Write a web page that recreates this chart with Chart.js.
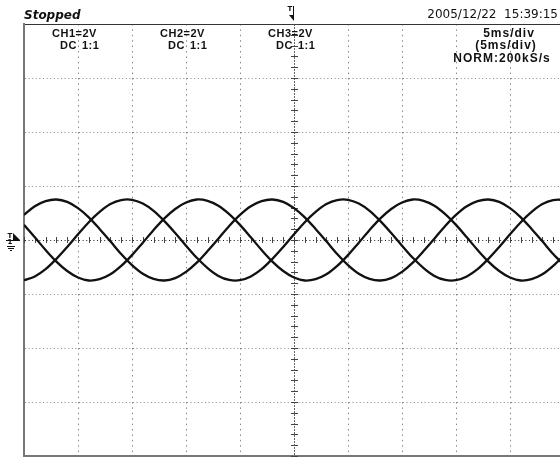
<!DOCTYPE html>
<html>
<head>
<meta charset="utf-8">
<script src="https://cdn.jsdelivr.net/npm/chart.js@4.4.1/dist/chart.umd.min.js"></script>
<style>
html, body { margin: 0; padding: 0; background: #fff; overflow: hidden; }
#scope { display: block; }
</style>
</head>
<body>
<canvas id="scope" width="580" height="457"></canvas>
<script>
// time base: 5 ms/div, 10 div, trigger at centre
var time_ms = [-25, -24, -23, -22, -21, -20, -19, -18, -17, -16,
    -15, -14, -13, -12, -11, -10, -9, -8, -7, -6,
    -5, -4, -3, -2, -1, 0, 1, 2, 3, 4,
    5, 6, 7, 8, 9, 10, 11, 12, 13, 14,
    15, 16, 17, 18, 19, 20, 21, 22, 23, 24, 25];

// volts (2 V/div)
var ch1_volt = [-1.49, -1.35, -1.08, -0.70, -0.26, 0.21, 0.66, 1.04, 1.33, 1.48,
    1.49, 1.35, 1.08, 0.70, 0.26, -0.21, -0.66, -1.04, -1.33, -1.48,
    -1.49, -1.35, -1.08, -0.70, -0.26, 0.21, 0.66, 1.04, 1.33, 1.48,
    1.49, 1.35, 1.08, 0.70, 0.26, -0.21, -0.66, -1.04, -1.33, -1.48,
    -1.49, -1.35, -1.08, -0.70, -0.26, 0.21, 0.66, 1.04, 1.33, 1.48, 1.49];
var ch2_volt = [0.56, 0.10, -0.37, -0.80, -1.15, -1.39, -1.50, -1.45, -1.27, -0.96,
    -0.56, -0.10, 0.37, 0.80, 1.15, 1.39, 1.50, 1.45, 1.27, 0.96,
    0.56, 0.10, -0.37, -0.80, -1.15, -1.39, -1.50, -1.45, -1.27, -0.96,
    -0.56, -0.10, 0.37, 0.80, 1.15, 1.39, 1.50, 1.45, 1.27, 0.96,
    0.56, 0.10, -0.37, -0.80, -1.15, -1.39, -1.50, -1.45, -1.27, -0.96, -0.56];
var ch3_volt = [0.93, 1.25, 1.44, 1.50, 1.41, 1.18, 0.84, 0.41, -0.05, -0.52,
    -0.93, -1.25, -1.44, -1.50, -1.41, -1.18, -0.84, -0.41, 0.05, 0.52,
    0.93, 1.25, 1.44, 1.50, 1.41, 1.18, 0.84, 0.41, -0.05, -0.52,
    -0.93, -1.25, -1.44, -1.50, -1.41, -1.18, -0.84, -0.41, 0.05, 0.52,
    0.93, 1.25, 1.44, 1.50, 1.41, 1.18, 0.84, 0.41, -0.05, -0.52, -0.93];

var ch_labels = ["CH1=2V", "CH2=2V", "CH3=2V"];
var coupling_label = ["DC", "1:1"];
var timebase_labels = ["5ms/div", "(5ms/div)", "NORM:200kS/s"];
var status_label = "Stopped";
var date_label = "2005/12/22  15:39:15";

function toPoints(ys) {
    return time_ms.map((t, i) => ({ x: t, y: ys[i] }));
}

function traceSet(ys) {
    return {
        type: "line",
        data: toPoints(ys),
        borderColor: "#111",
        borderWidth: 2.3,
        pointRadius: 0,
        tension: 0.33,
        fill: false,
    };
}

// small ticks on the centre axes
const centreTicks = {
    id: "centreTicks",
    beforeDatasetsDraw(chart) {
        const ctx = chart.ctx;
        const xs = chart.scales.x, ys = chart.scales.y;
        const x0 = xs.getPixelForValue(0), y0 = ys.getPixelForValue(0);
        ctx.save();
        ctx.strokeStyle = "#444";
        ctx.lineWidth = 1;
        ctx.beginPath();
        for (let t = -25; t <= 25; t++) {
            const px = Math.round(xs.getPixelForValue(t)) + 0.5;
            ctx.moveTo(px, y0 - 3);
            ctx.lineTo(px, y0 + 3);
        }
        for (let v = -8; v <= 8.001; v += 0.4) {
            const py = Math.round(ys.getPixelForValue(v)) + 0.5;
            ctx.moveTo(x0 - 3, py);
            ctx.lineTo(x0 + 4, py);
        }
        ctx.stroke();
        ctx.restore();
    },
};

const screenText = {
    id: "screenText",
    afterDraw(chart) {
        const ctx = chart.ctx;
        const xs = chart.scales.x, ys = chart.scales.y;
        ctx.save();
        ctx.fillStyle = "#111";
        ctx.textBaseline = "alphabetic";

        ctx.font = 'bold italic 12px "DejaVu Sans"';
        ctx.textAlign = "left";
        ctx.fillText(status_label, 24, 19);

        ctx.font = '12px "DejaVu Sans"';
        ctx.textAlign = "right";
        ctx.fillText(date_label, 558, 18);

        ctx.font = 'bold 11px "Liberation Sans"';
        ctx.textAlign = "left";
        ctx.letterSpacing = "0.5px";
        for (let i = 0; i < ch_labels.length; i++) {
            const x = 52 + i * 108;
            ctx.fillText(ch_labels[i], x, 37);
            ctx.fillText(coupling_label[0], x + 8, 49);
            ctx.fillText(coupling_label[1], x + 30, 49);
        }
        ctx.font = 'bold 12px "Liberation Sans"';
        ctx.letterSpacing = "1px";
        ctx.textAlign = "center";
        ctx.fillText(timebase_labels[0], 509, 37);
        ctx.fillText(timebase_labels[1], 506, 49);
        ctx.fillText(timebase_labels[2], 502, 62);
        ctx.letterSpacing = "0px";

        // trigger position marker (top)
        const tx = Math.round(xs.getPixelForValue(0)) - 3;
        ctx.font = 'bold 7px "DejaVu Sans"';
        ctx.textAlign = "center";
        ctx.fillText("T", tx - 1, 11);
        ctx.fillRect(tx + 2, 6, 1, 12);
        ctx.beginPath();
        ctx.moveTo(tx - 2, 15);
        ctx.lineTo(tx + 3, 21);
        ctx.lineTo(tx + 3, 15);
        ctx.closePath();
        ctx.fill();

        // trigger level / ground marker (left)
        const ly = Math.round(ys.getPixelForValue(0));
        ctx.fillText("T", 10, ly - 2);
        ctx.fillText("1", 10, ly + 4);
        ctx.beginPath();
        ctx.moveTo(13, ly - 7);
        ctx.lineTo(20, ly);
        ctx.lineTo(13, ly + 1);
        ctx.closePath();
        ctx.fill();
        ctx.fillRect(6, ly, 14, 1);
        ctx.fillRect(7, ly + 6, 8, 1);
        ctx.fillRect(8, ly + 8, 6, 1);
        ctx.fillRect(10, ly + 10, 2, 1);
        ctx.restore();
    },
};

const ctx = document.getElementById("scope").getContext("2d");
const scopeChart = new Chart(ctx, {
    data: {
        datasets: [traceSet(ch1_volt), traceSet(ch2_volt), traceSet(ch3_volt)],
    },
    options: {
        responsive: false,
        animation: false,
        layout: {
            padding: { left: 24, top: 24, right: 16, bottom: 1 },
        },
        plugins: {
            legend: { display: false },
            tooltip: { enabled: false },
        },
        scales: {
            x: {
                type: "linear",
                min: -25,
                max: 25,
                ticks: { display: false, stepSize: 5 },
                grid: {
                    drawTicks: false,
                    lineWidth: 1,
                    color: c => c.tick && c.tick.value === 0 ? "#666" : "#888",
                },
                border: {
                    display: true,
                    color: "#777",
                    width: 2,
                    dash: c => c.tick && c.tick.value === 0 ? [2, 1] : [1.5, 3.9],
                },
                afterFit: s => { s.height = 0; },
            },
            xTop: {
                type: "linear",
                position: "top",
                min: -25,
                max: 25,
                ticks: { display: false },
                grid: { display: false, drawTicks: false },
                border: { display: true, color: "#333", width: 1 },
                afterFit: s => { s.height = 0; },
            },
            y: {
                type: "linear",
                min: -8,
                max: 8,
                ticks: { display: false, stepSize: 2 },
                grid: {
                    drawTicks: false,
                    lineWidth: 1,
                    color: c => c.tick && c.tick.value === 0 ? "#222" : "#888",
                },
                border: {
                    display: true,
                    color: "#777",
                    width: 2,
                    dash: [1, 2.6],
                },
                afterFit: s => { s.width = 0; },
            },
        },
    },
    plugins: [centreTicks, screenText],
});
</script>
</body>
</html>
